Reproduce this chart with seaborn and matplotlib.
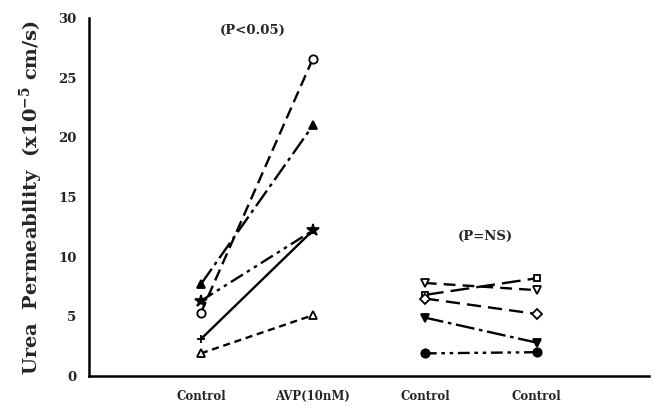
import matplotlib
matplotlib.use("Agg")
import matplotlib.pyplot as plt
import seaborn as sns

# Paired measurements: left pair (Control -> AVP), right pair (Control -> Control)
avp_positions = [1, 2]
ctl_positions = [3, 4]

avp_circle_open = [5.3, 26.6]
avp_tri_filled = [7.7, 21.0]
avp_star = [6.3, 12.2]
avp_plus = [3.1, 12.2]
avp_tri_open = [1.9, 5.1]

ctl_tri_down_open = [7.8, 7.2]
ctl_square_open = [6.8, 8.2]
ctl_diamond_open = [6.5, 5.2]
ctl_tri_down_filled = [4.9, 2.8]
ctl_circle_filled = [1.9, 2.0]

tick_positions = [1, 2, 3, 4]
tick_labels = ["Control", "AVP(10nM)", "Control", "Control"]

sns.set_style("white")
plt.rcParams["font.family"] = ["DejaVu Serif"]
plt.rcParams["font.weight"] = "bold"
plt.rcParams["mathtext.fontset"] = "dejavuserif"
plt.rcParams["mathtext.default"] = "bf"

fig = plt.figure(figsize=(6.54, 4.11), dpi=100)
ax = fig.add_axes([0.136, 0.085, 0.856, 0.871])

series = [
    (avp_positions, avp_circle_open, "o", "white", (0, (5, 2.5))),
    (avp_positions, avp_tri_filled, "^", "black", (0, (8, 2, 1.5, 2))),
    (avp_positions, avp_star, "*", "black", (0, (6, 2, 1.5, 2, 1.5, 2))),
    (avp_positions, avp_plus, "+", "black", "-"),
    (avp_positions, avp_tri_open, "^", "white", (0, (3, 2))),
    (ctl_positions, ctl_tri_down_open, "v", "white", (0, (5, 3))),
    (ctl_positions, ctl_square_open, "s", "white", (0, (8, 3))),
    (ctl_positions, ctl_diamond_open, "D", "white", (0, (6, 3))),
    (ctl_positions, ctl_tri_down_filled, "v", "black", (0, (8, 2, 1.5, 2))),
    (ctl_positions, ctl_circle_filled, "o", "black", (0, (5, 2, 1.5, 2, 1.5, 2))),
]

for xs, ys, m, fc, ls in series:
    ms = 5 if m in ("D", "s") else 6
    if m == "*":
        ms = 9
    sns.lineplot(x=xs, y=ys, ax=ax, color="black", marker=m, markersize=ms,
                 markerfacecolor=fc, markeredgecolor="black", markeredgewidth=1.3,
                 linestyle=ls, linewidth=1.7, legend=False)

ax.set_xlim(0, 5)
ax.set_ylim(0, 30)
ax.set_xticks(tick_positions)
ax.set_xticklabels(tick_labels, fontsize=8.5, fontweight="bold")
ax.set_yticks([0, 5, 10, 15, 20, 25, 30])
ax.set_yticklabels(["0", "5", "10", "15", "20", "25", "30"], fontsize=9.5, fontweight="bold")
ax.tick_params(axis="both", direction="in", length=5, width=1.2, pad=9)
ax.tick_params(axis="x", pad=10)

for side in ("top", "right"):
    ax.spines[side].set_visible(False)
for side in ("left", "bottom"):
    ax.spines[side].set_linewidth(1.8)
    ax.spines[side].set_color("black")

ax.set_xlabel("")
ax.set_ylabel("Urea  Permeability  (x10$^{-5}$ cm/s)", fontsize=14, fontweight="bold",
              labelpad=9)

ax.text(1.46, 29.0, "(P<0.05)", ha="center", va="center", fontsize=9.5, fontweight="bold")
ax.text(3.54, 11.7, "(P=NS)", ha="center", va="center", fontsize=9.5, fontweight="bold")

fig.savefig("out.png", dpi=100)
